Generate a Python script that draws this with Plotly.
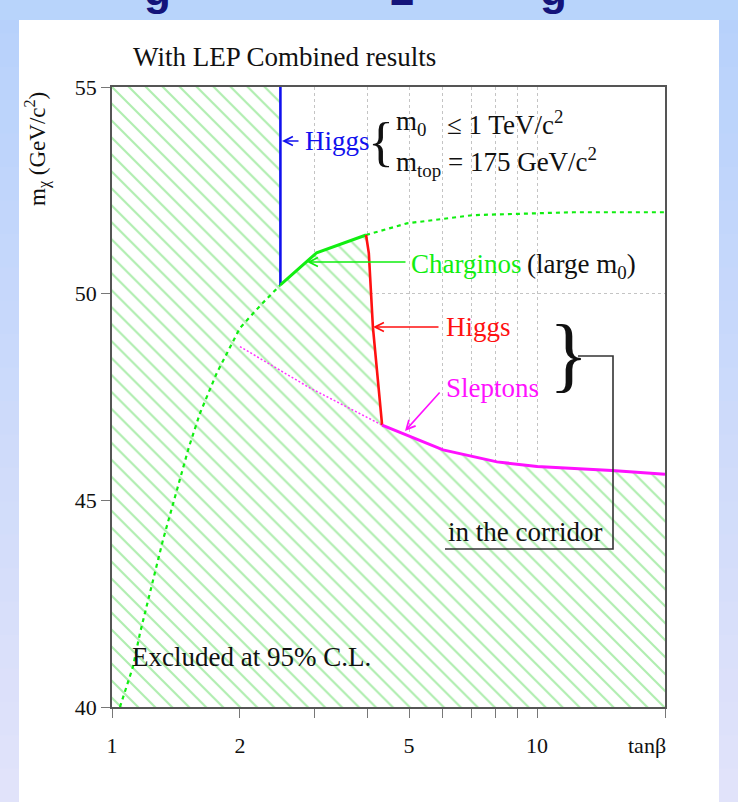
import plotly.graph_objects as go

# ---------------- data (tan(beta), m_chi in GeV/c^2) ----------------
TB_MIN, TB_MAX = 1.0, 20.0
M_MIN, M_MAX = 40.0, 55.0

higgs_blue_tb = [2.49, 2.49]
higgs_blue_m = [55.0, 50.21]

charg_solid_tb = [2.49, 3.03, 3.96]
charg_solid_m = [50.21, 50.99, 51.42]

charg_dash_low_tb = [1.044, 1.12, 1.164, 1.318, 1.517, 1.611, 1.764, 2.0, 2.25, 2.49]
charg_dash_low_m = [40.0, 40.97, 41.79, 44.04, 46.29, 47.11, 48.08, 49.17, 49.75, 50.21]

charg_dash_high_tb = [3.96, 4.94, 7.07, 12.16, 20.0]
charg_dash_high_m = [51.42, 51.70, 51.90, 51.97, 51.97]

higgs_red_tb = [3.96, 4.02, 4.11, 4.32]
higgs_red_m = [51.42, 50.98, 49.19, 46.82]

slep_solid_tb = [4.32, 6.01, 8.05, 10.0, 15.0, 20.0]
slep_solid_m = [46.82, 46.22, 45.93, 45.82, 45.72, 45.63]

slep_dot_tb = [2.0, 2.92, 4.32]
slep_dot_m = [48.72, 47.72, 46.82]

x_tickvals = [1, 2, 3, 4, 5, 6, 7, 8, 9, 10, 20]
x_ticktext = ["1", "2", "", "", "5", "", "", "", "", "10", ""]
y_tickvals = [40, 45, 50, 55]

# ---------------- layout geometry (pixels) ----------------
WIDTH, HEIGHT = 738, 802
L, R, T, B = 112, 665, 87, 707
PW, PH = R - L, B - T


def PX(px):
    return (px - L) / PW


def PY(py):
    return (B - py) / PH


FONT = "Liberation Serif"

# excluded region boundary
ex_tb = ([TB_MIN] + higgs_blue_tb + charg_solid_tb[1:] + higgs_red_tb[1:]
         + slep_solid_tb[1:] + [TB_MAX, TB_MIN, TB_MIN])
ex_m = ([M_MAX] + higgs_blue_m + charg_solid_m[1:] + higgs_red_m[1:]
        + slep_solid_m[1:] + [M_MIN, M_MIN, M_MAX])

fig = go.Figure()

fig.add_trace(go.Scatter(
    x=ex_tb, y=ex_m, mode="lines", fill="toself",
    fillcolor="rgba(0,0,0,0)",
    fillpattern=dict(shape="\\", fgcolor="#5fdc5f", bgcolor="white",
                     size=12, solidity=0.18),
    line=dict(width=0), hoverinfo="skip", showlegend=False))

fig.add_trace(go.Scatter(x=charg_dash_low_tb, y=charg_dash_low_m, mode="lines",
                         line=dict(color="#11ee11", width=2.2, dash="4px,4px"),
                         showlegend=False))
fig.add_trace(go.Scatter(x=charg_dash_high_tb, y=charg_dash_high_m, mode="lines",
                         line=dict(color="#11ee11", width=2.2, dash="4px,4px"),
                         showlegend=False))
fig.add_trace(go.Scatter(x=slep_dot_tb, y=slep_dot_m, mode="lines",
                         line=dict(color="#ff33ff", width=1.5, dash="2px,2px"),
                         showlegend=False))
fig.add_trace(go.Scatter(x=higgs_blue_tb, y=higgs_blue_m, mode="lines",
                         line=dict(color="#1111ee", width=2.6), showlegend=False))
fig.add_trace(go.Scatter(x=charg_solid_tb, y=charg_solid_m, mode="lines",
                         line=dict(color="#11ee11", width=3), showlegend=False))
fig.add_trace(go.Scatter(x=higgs_red_tb, y=higgs_red_m, mode="lines",
                         line=dict(color="#ff1111", width=2.6), showlegend=False))
fig.add_trace(go.Scatter(x=slep_solid_tb, y=slep_solid_m, mode="lines",
                         line=dict(color="#ff11ff", width=3), showlegend=False))

# ---------------- slide background strips ----------------
shapes = []


def lerp(c1, c2, t):
    return "#%02x%02x%02x" % tuple(int(round(a + (b - a) * t)) for a, b in zip(c1, c2))


top_c, bot_c = (0xb6, 0xd1, 0xfb), (0xe2, 0xe3, 0xfa)
n = 24
for i in range(n):
    y0 = HEIGHT * i / n
    y1 = HEIGHT * (i + 1) / n + 1
    col = lerp(top_c, bot_c, (i + 0.5) / n)
    for xa, xb in [(0, 19), (719, WIDTH)]:
        shapes.append(dict(type="rect", xref="paper", yref="paper",
                           x0=PX(xa), x1=PX(xb), y0=PY(y1), y1=PY(y0),
                           fillcolor=col, line=dict(width=0), layer="below"))
shapes.append(dict(type="rect", xref="paper", yref="paper",
                   x0=PX(0), x1=PX(WIDTH), y0=PY(20), y1=PY(0),
                   fillcolor="#b8d4fb", line=dict(width=0), layer="below"))

# connector for the corridor brace
shapes.append(dict(type="path", xref="paper", yref="paper",
                   path="M %f %f L %f %f L %f %f L %f %f" % (
                       PX(578), PY(356), PX(613), PY(356), PX(613), PY(549), PX(445), PY(549)),
                   line=dict(color="#333333", width=1.6)))

# ---------------- annotations ----------------
ann = []


def text(px, py, s, size=26, color="#111111", xanchor="left", **kw):
    ann.append(dict(x=PX(px), y=PY(py), xref="paper", yref="paper", text=s,
                    showarrow=False, xanchor=xanchor, yanchor="middle",
                    font=dict(family=FONT, size=size, color=color), **kw))


def arrow(hx, hy, tx, ty, color):
    ann.append(dict(x=PX(hx), y=PY(hy), xref="paper", yref="paper", text="",
                    showarrow=True, arrowhead=5, arrowsize=1.1, arrowwidth=1.6,
                    arrowcolor=color, ax=tx - hx, ay=ty - hy, standoff=0))


# cut-off slide heading glyphs at the very top
for gx, g in [(157, "g"), (402, "2"), (553, "g")]:
    ann.append(dict(x=PX(gx), y=PY(-11), xref="paper", yref="paper", text="<b>%s</b>" % g,
                    showarrow=False, xanchor="center", yanchor="middle",
                    font=dict(family="Liberation Sans", size=44, color="#14147a")))

text(131, 57, "With LEP Combined results", size=27)
text(37, 149, "m<sub>χ</sub> (GeV/c<sup>2</sup>)", size=23, xanchor="center", textangle=-90)
text(647, 745, "tanβ", size=22, xanchor="center")

# blue Higgs
arrow(282, 141, 300, 141, "#1111ee")
text(303, 141, "Higgs", size=27, color="#1111ee")
text(381, 142, "{", size=54, xanchor="center")
text(394, 123, "m<sub>0</sub>", size=27)
text(445, 123, "≤ 1 TeV/c<sup>2</sup>", size=27)
text(394, 162, "m<sub>top</sub> = 175 GeV/c<sup>2</sup>", size=27)

# charginos
arrow(307, 262, 407, 262, "#11ee11")
text(409, 264, "Charginos", size=27, color="#11ee11")
text(525, 266, "(large m<sub>0</sub>)", size=27)

# red Higgs
arrow(373, 327, 440, 327, "#ff1111")
text(444, 327, "Higgs", size=27, color="#ff1111")

# sleptons
arrow(405, 431, 441, 391, "#ff11ff")
text(444, 388, "Sleptons", size=27, color="#ff11ff")

# brace + corridor
text(568, 354, "}", size=82, xanchor="center")
text(446, 532, "in the corridor", size=27)

text(130, 657, "Excluded at 95% C.L.", size=27)

axis_common = dict(showline=True, linecolor="#555555", linewidth=1.6, mirror=True,
                   ticks="outside", tickcolor="#777777", ticklen=9,
                   showgrid=True, gridcolor="#c4c4c4", gridwidth=1, griddash="dot",
                   zeroline=False,
                   tickfont=dict(family=FONT, size=22, color="#111111"))

fig.update_layout(
    width=WIDTH, height=HEIGHT,
    margin=dict(l=L, r=WIDTH - R, t=T, b=HEIGHT - B, pad=0),
    paper_bgcolor="white", plot_bgcolor="white",
    showlegend=False,
    xaxis=dict(type="log", range=[0, 1.30103], tickvals=x_tickvals, ticktext=x_ticktext,
               ticklabelstandoff=9, **axis_common),
    yaxis=dict(range=[M_MIN, M_MAX], tickvals=y_tickvals, ticklabelstandoff=0,
               **axis_common),
    shapes=shapes, annotations=ann,
)

fig.write_html("out.html")
